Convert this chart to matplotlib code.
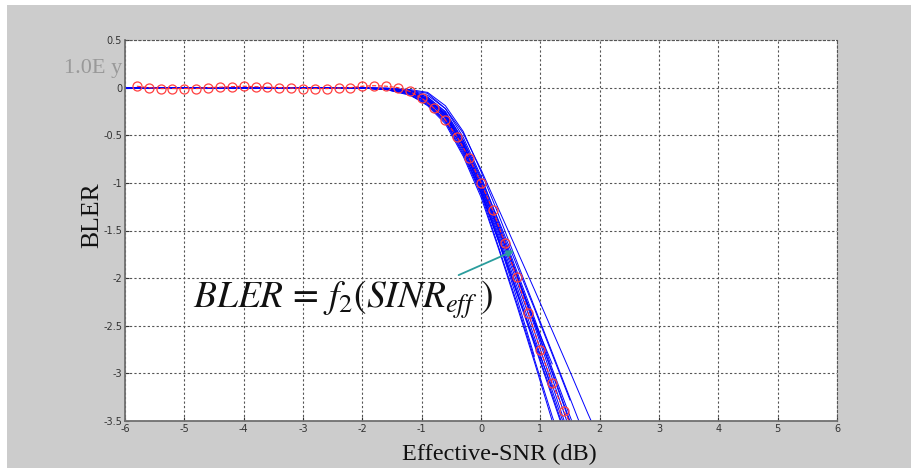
import numpy as np
import matplotlib.pyplot as plt
from matplotlib.patches import Rectangle

plt.rcParams['mathtext.fontset'] = 'stix'

# red reference curve (markers every 0.2 dB)
red_x = [-5.8, -5.6, -5.4, -5.2, -5.0, -4.8, -4.6, -4.4, -4.2, -4.0, -3.8, -3.6,
         -3.4, -3.2, -3.0, -2.8, -2.6, -2.4, -2.2, -2.0, -1.8, -1.6, -1.4, -1.2,
         -1.0, -0.8, -0.6, -0.4, -0.2, 0.0, 0.2, 0.4, 0.6, 0.8, 1.0, 1.2, 1.4, 1.55]
red_y = [0.015, 0.0, -0.01, -0.01, -0.01, -0.01, 0.0, 0.005, 0.01, 0.015, 0.01, 0.005,
         0.0, -0.005, -0.01, -0.01, -0.01, -0.005, 0.0, 0.015, 0.02, 0.015, 0.0, -0.04,
         -0.11, -0.21, -0.34, -0.52, -0.74, -1.0, -1.29, -1.63, -1.99, -2.37, -2.75,
         -3.10, -3.40, -3.58]

# blue curves on a common x grid (nan = curve ended)
blue_x = [-6, -2, -1.6, -1.2, -0.9, -0.6, -0.3, 0, 0.3, 0.6, 0.9, 1.2, 1.5, 1.8, 2.0]
nan = np.nan
blue_y = [
    [-0.005, -0.005, -0.01, -0.04, -0.12, -0.27, -0.58, -1.00, -1.48, -1.98, -2.50, -3.05, -3.60, nan, nan],
    [-0.005, -0.005, -0.02, -0.06, -0.15, -0.31, -0.62, -1.05, -1.55, -2.08, -2.62, -3.18, -3.72, nan, nan],
    [-0.005, -0.005, -0.005, -0.03, -0.08, -0.22, -0.52, -0.93, -1.42, -1.92, -2.42, -2.95, -3.45, -3.95, nan],
    [-0.005, -0.005, -0.01, -0.05, -0.14, -0.32, -0.66, -1.10, -1.62, -2.15, -2.70, -3.25, -3.80, nan, nan],
    [-0.005, -0.005, -0.02, -0.08, -0.18, -0.36, -0.70, -1.12, -1.68, -2.25, -2.85, -3.45, -4.00, nan, nan],
    [-0.005, -0.005, -0.01, -0.03, -0.06, -0.22, -0.48, -0.86, -1.28, -1.70, -2.12, -2.55, -2.98, -3.42, -3.70],
    [-0.005, -0.005, -0.01, -0.04, -0.10, -0.25, -0.55, -0.95, -1.40, -1.86, -2.32, -2.80, -3.28, nan, nan],
    [-0.005, -0.005, -0.02, -0.05, -0.13, -0.29, -0.60, -1.02, -1.50, -1.98, -2.45, -2.90, nan, nan, nan],
    [-0.005, -0.005, -0.02, -0.07, -0.17, -0.35, -0.68, -1.10, -1.62, -2.20, -2.82, nan, nan, nan, nan],
    [-0.005, -0.005, -0.01, -0.05, -0.11, -0.28, -0.60, -1.03, -1.52, -2.03, -2.56, -3.12, -3.68, nan, nan],
    [-0.005, -0.005, -0.015, -0.06, -0.16, -0.34, -0.64, -1.06, -1.58, -2.12, -2.68, -3.22, -3.78, nan, nan],
    [-0.005, -0.005, -0.005, -0.02, -0.05, -0.19, -0.46, -0.88, -1.34, -1.82, -2.30, -2.78, -3.26, -3.74, nan],
    [-0.005, -0.005, -0.01, -0.04, -0.13, -0.30, -0.63, -1.08, -1.60, -2.14, -2.66, -3.15, nan, nan, nan],
    [-0.005, -0.005, -0.02, -0.07, -0.19, -0.38, -0.72, -1.15, -1.70, -2.28, -2.88, -3.50, -4.10, nan, nan],
    [-0.005, -0.005, -0.01, -0.03, -0.10, -0.26, -0.56, -0.97, -1.45, -1.95, -2.47, -3.00, -3.52, nan, nan],
    [-0.005, -0.005, -0.01, -0.05, -0.12, -0.29, -0.59, -1.00, -1.47, -1.96, -2.46, -2.98, -3.50, nan, nan],
]

xticks = [-6, -5, -4, -3, -2, -1, 0, 1, 2, 3, 4, 5, 6]
yticks = [0.5, 0, -0.5, -1, -1.5, -2, -2.5, -3, -3.5]

fig = plt.figure(figsize=(9.11, 4.68), dpi=100)
fig.patch.set_facecolor('white')
fig.patches.append(Rectangle((7 / 911, 0), 1, 1 - 5 / 468, transform=fig.transFigure,
                             facecolor='#cccccc', edgecolor='none', zorder=-10))

ax = fig.add_axes([125 / 911, 1 - 421 / 468, 712 / 911, 381 / 468])
ax.set_facecolor('white')

for ys in blue_y:
    ax.plot(blue_x, ys, color='#0000ff', lw=0.7)
ax.plot(red_x, red_y, '--', color='#ff2a2a', lw=0.8, marker='o', ms=6.5,
        mfc='none', mec='#ff4040', mew=0.9)

ax.set_xlim(-6, 6)
ax.set_ylim(-3.5, 0.5)
ax.set_xticks(xticks)
ax.set_yticks(yticks)
ax.set_xticklabels([str(t) for t in xticks])
ax.set_yticklabels(['0.5', '0', '-0.5', '-1', '-1.5', '-2', '-2.5', '-3', '-3.5'])
ax.tick_params(labelsize=7, colors='#333333', length=3, direction='in', pad=2)
ax.grid(True, linestyle=(0, (2, 2)), color='#555555', lw=0.8)

for s in ['left', 'bottom']:
    ax.spines[s].set_color('#707070')
    ax.spines[s].set_linewidth(1.3)
for s in ['top', 'right']:
    ax.spines[s].set_linestyle((0, (2, 2)))
    ax.spines[s].set_color('#555555')
    ax.spines[s].set_linewidth(0.8)

ax.set_xlabel('Effective-SNR (dB)', family='Liberation Serif', fontsize=17.5,
              color='#111111')
ax.xaxis.set_label_coords((499 - 125) / 712, -(444 - 421) / 381)
ax.set_ylabel('BLER', family='Liberation Serif', fontsize=18.5, color='#111111')
ax.yaxis.set_label_coords(-(125 - 103) / 712, (421 - 215) / 381)

fig.text(122 / 911, 1 - 69 / 468, '1.0E y', family='Liberation Serif', fontsize=16,
         color='#999999', ha='right', va='center')

ax.text(193 / 911, 1 - 300 / 468, r'$BLER\,=\,f_2(SINR_{eff}\;)$', transform=fig.transFigure,
        fontsize=27, color='#111111', ha='left', va='center')

ax.annotate('', xy=(0.6, -1.7), xytext=(-0.42, -1.98),
            arrowprops=dict(arrowstyle='-|>', color='#2a9d9d', lw=1.3,
                            mutation_scale=10))

fig.savefig('out.png', dpi=100)
